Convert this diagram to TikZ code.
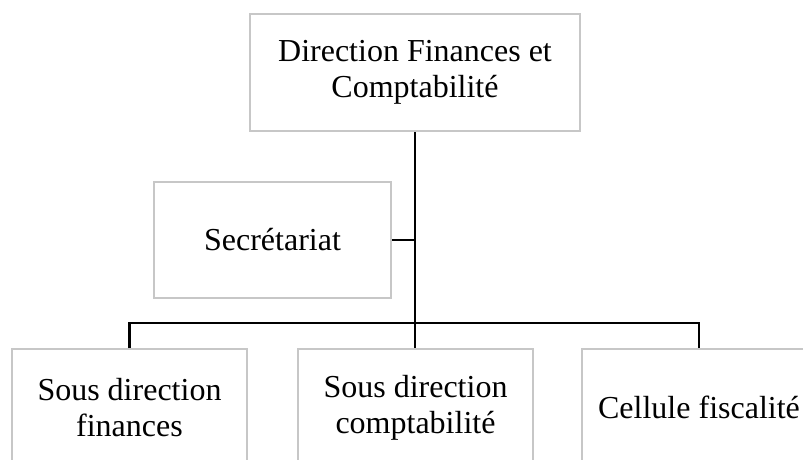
\documentclass[tikz,border=0pt]{standalone}
\usepackage{fontspec}
\setmainfont{Liberation Serif}
\tikzset{
  unit/.style={draw=black!22, line width=2pt, minimum width=235pt,
    minimum height=117pt, inner sep=0pt, align=center,
    font=\fontsize{32}{36}\selectfont},
  link/.style={line width=2.6pt}
}
\begin{document}
\begin{tikzpicture}[x=1pt,y=-1pt]
  \clip (0,0) rectangle (803,460);
  \useasboundingbox (0,0) rectangle (803,460);
  \node [unit, minimum width=330pt] (dir) at (415,72.5) {Direction Finances et\\Comptabilité};
  \node [unit, minimum width=237pt, minimum height=116pt] (secr) at (272.5,240) {Secrétariat};
  \node [unit] (sdf) at (129.5,407.5) {Sous direction\\finances};
  \node [unit] (sdc) at (415.5,407.5) {Sous direction\\comptabilité};
  \node [unit] (fisc) at (699,407.5) {Cellule fiscalité};
  \coordinate (bus) at (415,323);
  \draw [link] (dir.south) -- (dir.south |- sdc.north);
  \draw [link] (secr.east) -- (secr.east -| dir.south);
  \draw [link] (sdf.north) |- (bus) -| (fisc.north);
\end{tikzpicture}
\end{document}
